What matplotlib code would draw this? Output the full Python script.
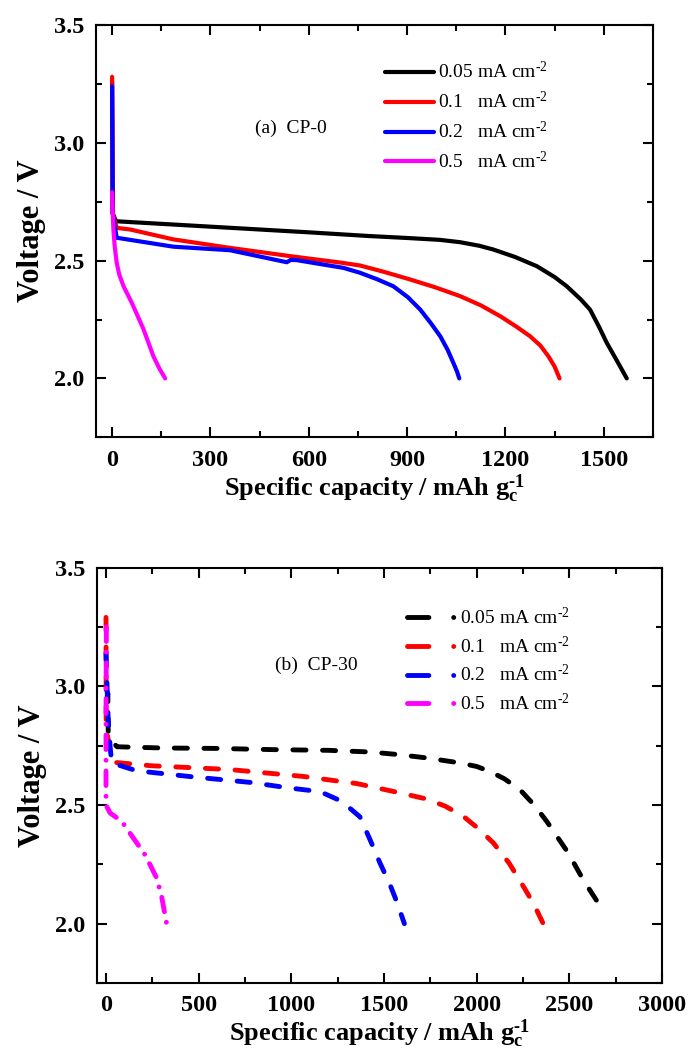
import numpy as np
import matplotlib.pyplot as plt
from matplotlib.ticker import MultipleLocator

plt.rcParams['font.family'] = 'Liberation Serif'
plt.rcParams['mathtext.fontset'] = 'custom'
plt.rcParams['mathtext.rm'] = 'Liberation Serif'
plt.rcParams['mathtext.it'] = 'Liberation Serif:italic'
plt.rcParams['mathtext.bf'] = 'Liberation Serif:bold'
plt.rcParams['mathtext.default'] = 'regular'

labels = ['0.05 mA cm$^{\u20102}$', '0.1   mA cm$^{\u20102}$',
          '0.2   mA cm$^{\u20102}$', '0.5   mA cm$^{\u20102}$']
colors = ['black', 'red', 'blue', 'magenta']

# (a) CP-0 discharge curves, capacity in mAh/g, voltage in V
a_cap_005 = [0, 2, 12, 200, 400, 600, 787, 900, 1000, 1062, 1120, 1163, 1230, 1296, 1350, 1387,
             1430, 1458, 1485, 1509, 1540, 1570]
a_v_005 = [3.26, 2.70, 2.667, 2.652, 2.636, 2.620, 2.604, 2.596, 2.588, 2.578, 2.563, 2.547,
           2.515, 2.476, 2.430, 2.391, 2.335, 2.292, 2.220, 2.151, 2.075, 2.0]
a_cap_01 = [0, 2, 14, 55, 187, 360, 543, 700, 757, 830, 909, 985, 1062, 1125, 1184, 1233, 1275,
            1306, 1331, 1350, 1365]
a_v_01 = [3.28, 2.70, 2.639, 2.632, 2.590, 2.554, 2.519, 2.491, 2.479, 2.452, 2.420, 2.387,
          2.349, 2.310, 2.264, 2.220, 2.179, 2.140, 2.094, 2.050, 2.0]
a_cap_02 = [0, 2, 14, 187, 360, 533, 545, 563, 706, 757, 810, 858, 902, 940, 972, 1001, 1024,
            1041, 1052, 1059]
a_v_02 = [3.24, 2.70, 2.597, 2.559, 2.544, 2.493, 2.503, 2.502, 2.469, 2.448, 2.420, 2.391,
          2.345, 2.292, 2.235, 2.179, 2.120, 2.066, 2.030, 2.0]
a_cap_05 = [0, 2, 4, 8, 14, 22, 35, 48, 60, 78, 96, 126, 145, 162]
a_v_05 = [2.79, 2.70, 2.632, 2.56, 2.491, 2.44, 2.391, 2.355, 2.321, 2.265, 2.208, 2.094,
          2.04, 2.0]

# (b) CP-30 discharge curves
b_cap_005 = [5, 10, 12, 22, 60, 300, 600, 900, 1200, 1424, 1580, 1730, 1910, 2000, 2072, 2150,
             2234, 2310, 2378, 2440, 2494, 2574, 2620, 2670]
b_v_005 = [2.95, 2.97, 2.80, 2.775, 2.745, 2.740, 2.738, 2.733, 2.730, 2.723, 2.712, 2.698,
           2.677, 2.662, 2.641, 2.610, 2.564, 2.500, 2.431, 2.360, 2.298, 2.186, 2.130, 2.07]
b_cap_01 = [0, 1, 30, 49, 246, 669, 1065, 1353, 1550, 1730, 1830, 1928, 2010, 2090, 2175, 2252,
            2310, 2359]
b_v_01 = [3.29, 2.82, 2.70, 2.679, 2.665, 2.649, 2.620, 2.590, 2.557, 2.525, 2.495, 2.452,
          2.400, 2.340, 2.255, 2.157, 2.080, 2.0]
b_cap_02 = [0, 11, 22, 31, 165, 471, 777, 993, 1155, 1250, 1310, 1370, 1424, 1478, 1532, 1570,
            1610]
b_v_02 = [3.14, 2.87, 2.745, 2.677, 2.644, 2.618, 2.595, 2.571, 2.556, 2.523, 2.490, 2.450,
          2.355, 2.256, 2.165, 2.090, 2.0]
b_cap_05 = [2, 0, 0, 0, 22, 85, 147, 210, 273, 300, 327]
b_v_05 = [3.25, 2.83, 2.76, 2.50, 2.466, 2.431, 2.361, 2.291, 2.193, 2.115, 2.0]

a_series = [(a_cap_005, a_v_005), (a_cap_01, a_v_01), (a_cap_02, a_v_02), (a_cap_05, a_v_05)]
b_series = [(b_cap_005, b_v_005), (b_cap_01, b_v_01), (b_cap_02, b_v_02), (b_cap_05, b_v_05)]

a_xticks = [0, 300, 600, 900, 1200, 1500]
b_xticks = [0, 500, 1000, 1500, 2000, 2500, 3000]
yticks = [2.0, 2.5, 3.0, 3.5]

fig = plt.figure(figsize=(6.91, 10.62), dpi=100)
ax1 = fig.add_axes([0.1385, 0.5882, 0.8065, 0.3883])
ax2 = fig.add_axes([0.140, 0.0744, 0.818, 0.3912])


def style_axes(ax, xticks, xminor):
    ax.set_ylim(1.75, 3.5)
    ax.set_xticks(xticks)
    ax.set_xticklabels([str(t) for t in xticks], fontsize=17.5, fontweight='bold')
    ax.set_yticks(yticks)
    ax.set_yticklabels(['%.1f' % t for t in yticks], fontsize=17.5, fontweight='bold')
    ax.xaxis.set_minor_locator(MultipleLocator(xminor))
    ax.yaxis.set_minor_locator(MultipleLocator(0.25))
    ax.tick_params(which='both', direction='in', top=True, right=True, width=1.5)
    ax.tick_params(which='major', length=7.5)
    ax.tick_params(which='minor', length=4)
    ax.tick_params(axis='x', pad=9)
    ax.tick_params(axis='y', pad=8)
    for s in ax.spines.values():
        s.set_linewidth(1.5)
    ax.set_xlabel('Specific capacity / mAh g$_c^{\u20101}$', fontsize=19, fontweight='bold',
                  labelpad=1)
    ax.set_ylabel('Voltage / V', fontsize=22, fontweight='bold', labelpad=6)


# top panel
for (cap, v), c, lab in zip(a_series, colors, labels):
    ax1.plot(cap, v, color=c, lw=3.0, solid_capstyle='round', solid_joinstyle='round', label=lab)
ax1.set_xlim(-50, 1650)
style_axes(ax1, a_xticks, 150)
ax1.text(436, 3.06, '(a)  CP-0', fontsize=14, va='center')
ax1.legend(loc='upper left', bbox_to_anchor=(0.519, 0.912), frameon=False, fontsize=14,
           handlelength=2.5, handletextpad=0.25, labelspacing=0.45, borderpad=0,
           borderaxespad=0)

# bottom panel
for i, ((cap, v), c, lab) in enumerate(zip(b_series, colors, labels)):
    ln, = ax2.plot(cap, v, color=c, lw=3.5, dash_capstyle='round', label=lab)
    if i == 3:
        ln.set_dashes([3.0, 2.2, 0.01, 2.2])
    else:
        ln.set_dashes([2.7, 3.4])
ax2.set_xlim(-50, 3000)
style_axes(ax2, b_xticks, 250)
ax2.text(912, 3.09, '(b)  CP-30', fontsize=14, va='center')
leg2 = ax2.legend(loc='upper left', bbox_to_anchor=(0.549, 0.905), frameon=False, fontsize=14,
                  handlelength=2.6, handletextpad=0.1, labelspacing=0.38, borderpad=0,
                  borderaxespad=0)
for h in leg2.get_lines():
    h.set_dashes([4.4, 5.1, 0.01, 3.0])

fig.savefig('out.png', dpi=100)
